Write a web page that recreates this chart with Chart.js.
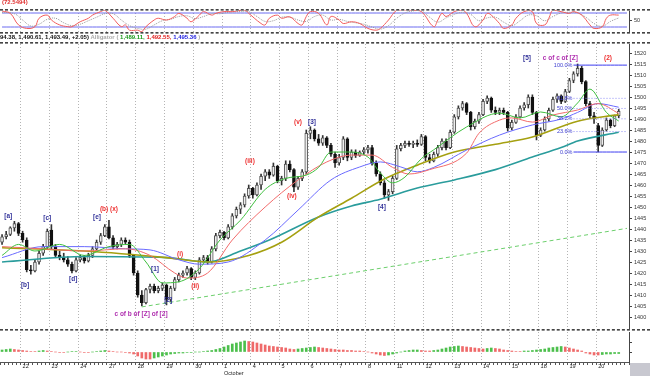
<!DOCTYPE html>
<html><head><meta charset="utf-8">
<script src="https://cdn.jsdelivr.net/npm/chart.js@4.4.1/dist/chart.umd.min.js"></script>
<style>
html,body{margin:0;padding:0;background:#fff;}
body{width:650px;height:376px;position:relative;overflow:hidden;font-family:"Liberation Sans",Arial,sans-serif;}
canvas{position:absolute;left:0;display:block;}
.sep{position:absolute;left:0;width:650px;height:0;border-top:1px dashed #444;border-bottom:1px dashed #888;z-index:5;}
#hdr{position:absolute;left:0;top:34px;font-size:6px;font-weight:bold;white-space:nowrap;line-height:7px;z-index:6;}
#rsiTitle{position:absolute;left:2px;top:-1px;font-size:6px;font-weight:bold;color:#e03030;z-index:6;}
#corner{position:absolute;left:630px;top:363px;width:20px;height:13px;background:#c8c8d0;}
</style></head><body>
<div id="rsiTitle">(72.5494)</div>
<canvas id="rsi" width="650" height="23" style="top:10px"></canvas>
<div id="hdr"><span style="color:#111">94.38, 1,490.61, 1,493.49, +2.05)</span> <span style="color:#aaa">Alligator (</span> <span style="color:#1a9a1a">1,489.11,</span> <span style="color:#e02020">1,492.55,</span> <span style="color:#2424e0">1,495.36</span> <span style="color:#aaa">)</span></div>
<canvas id="main" width="650" height="285" style="top:44px"></canvas>
<canvas id="hist" width="650" height="44" style="top:332px"></canvas>
<div class="sep" style="top:9px"></div>
<div class="sep" style="top:32px"></div>
<div class="sep" style="top:42px"></div>
<div class="sep" style="top:329px"></div>
<div id="corner"></div>
<script>
// ---------- categories ----------
const days = ['21','22','23','24','27','28','29','30','1','4','5','6','7','8','11','12','13','14','15','18','19','20'];
const barsPerDay = [5,7,7,7,7,7,7,7,7,7,7,7,7,7,7,7,7,7,7,7,7,8];
const monthNames = {'1':'October'};
const priceTicks = [1400,1405,1410,1415,1420,1425,1430,1435,1440,1445,1450,1455,1460,1465,1470,1475,1480,1485,1490,1495,1500,1505,1510,1515,1520];
const rsiTicks = [50];
const rsiLevels = [70,30];

// ---------- OHLC ----------
const opens = [1434,1436.5,1437.5,1440.5,1442.5,1438,1435,1421.5,1421,1425,
1429,1432,1439.5,1432,1428,1427,1426,1424,1421,1426,
1427,1425.5,1428,1431,1434,1437,1441,1436,1432,1433,
1435,1434,1428,1420,1410,1406.5,1412.5,1414,1412,1413,
1414.5,1408,1413,1417,1419,1420,1422,1418,1420,1426,
1427,1425,1431,1437,1438.5,1436,1441,1446,1449,1451,
1455,1458.5,1455.5,1460,1464,1466,1464.5,1468.5,1462,1463,
1469.5,1467,1459,1463,1466,1483.5,1485,1481,1479,1481.5,
1478,1474,1470,1472.5,1481,1472.5,1475,1473.5,1475,1476,
1477,1470,1465,1461,1455.5,1457,1463,1476.5,1478,1479,
1478.5,1479,1478.5,1482,1472.5,1471,1474,1477,1480,1477,
1484,1491,1495,1497,1493,1486.5,1489,1492,1498,1499.5,
1494,1493,1494,1493,1486,1488.5,1491,1495,1496.5,1500,
1493,1482.5,1485,1490,1494,1499,1500.5,1498,1502.5,1507.5,
1510.5,1513,1507,1497,1491.5,1487,1478,1485,1489.5,1487,
1491.5];
const highs = [1437.5,1439,1441,1443.5,1443,1439,1436,1423.5,1426,1430,
1433,1440,1442,1433,1430,1429,1427.5,1425,1427,1428,
1428,1429,1432,1435,1438,1442,1444,1437,1434,1436,
1436,1435,1428.5,1421,1412,1413,1415,1415,1414,1415.5,
1415,1414,1418,1420,1421,1423,1422.5,1421,1427,1428,
1428,1432,1438,1439.5,1439,1442,1447,1450,1452,1456,
1460,1459,1461,1465,1467,1467,1470,1469,1464,1471,
1471,1467.5,1464,1467,1485,1486.5,1485.5,1483,1482.5,1482,
1479,1475,1474,1482,1481.5,1476,1476,1475.5,1477,1478,
1478,1471,1466,1462,1458,1464,1478,1479,1480,1480,
1480,1480.5,1483,1482.5,1474,1475,1478,1481,1481,1485,
1492,1496,1498,1497.5,1493.5,1490,1493,1499,1500.5,1500,
1495.5,1495,1495,1493.5,1489.5,1492,1496,1497.5,1501,1501,
1493.5,1486,1491,1495,1500,1501.5,1501,1503.5,1508.5,1511.5,
1515,1514,1507.5,1498,1493,1488,1486,1490.5,1490,1491.8,
1494.38];
const lows = [1433,1435.5,1437,1439,1437,1434,1420.5,1419.5,1420.5,1424,
1428,1431,1431,1427,1426,1425,1423,1420,1420.5,1425,
1424.5,1425,1427,1430,1433,1436.5,1435.5,1431,1431,1432,
1433,1427,1419,1409,1405,1406,1411,1411,1411,1412,
1405.5,1407,1412,1416,1418,1419,1417,1417,1419.5,1425,
1424,1424.5,1430,1436,1435,1435.5,1440,1445,1447,1450,
1454,1454,1455,1458,1462,1463,1464,1461,1460,1462,
1466,1457,1458,1462,1465,1481,1480,1478,1478,1477,
1473,1468,1469,1471.5,1471,1471.5,1472.5,1473,1474,1474.5,
1469,1464,1460,1454,1453,1456,1462.5,1475.5,1477,1477.5,
1477,1477.5,1478,1471,1470,1470.5,1473,1476,1476,1476.5,
1483.5,1490,1494,1492,1485,1485.5,1488,1491.5,1497,1493,
1492,1492,1492,1484.5,1485,1488,1490.5,1494,1495,1492,
1480.5,1482,1484.5,1489,1493.5,1497.5,1497,1497.5,1502,1506.5,
1509.5,1506,1496,1490.5,1488,1475,1477.5,1484.5,1486,1486.5,
1490.61];
const closes = [1436.5,1437.5,1440.5,1442.5,1438,1435,1421.5,1421,1425,1429,
1432,1439,1432,1428,1427,1426,1424,1421,1426,1427,
1425.5,1428,1431,1434,1437,1441,1436,1432,1433,1435,
1434,1428,1420,1410,1406.5,1412.5,1414,1412,1413,1414.5,
1408,1413,1417,1419,1420,1422,1418,1420,1426,1427,
1425,1431,1437,1438.5,1436,1441,1446,1449,1451,1455,
1458.5,1455.5,1460,1464,1466,1464.5,1468.5,1462,1463,1469.5,
1467,1459,1463,1466,1483.5,1485,1481,1479,1481.5,1478,
1474,1470,1472.5,1481,1472.5,1475,1473.5,1475,1476,1477,
1470,1465,1461,1455.5,1457,1463,1476.5,1478,1479,1478.5,
1479,1478.5,1482,1472.5,1471,1474,1477,1480,1477,1484,
1491,1495,1497,1493,1486.5,1489,1492,1498,1499.5,1494,
1493,1494,1493,1486,1488.5,1491,1495,1496.5,1500,1493,
1482.5,1485,1490,1494,1499,1500.5,1498,1502.5,1507.5,1510.5,
1513,1507,1497,1491.5,1490,1478,1485,1489.5,1487,1491.44,
1493.49];

// ---------- moving averages (bar index, value) ----------
const maGreen = [[0,1428],[4,1433],[8,1430],[14,1433],[20,1428],[26,1432],[31,1433],[35,1425],[39,1415.5],[43,1416],[48,1422],[53,1435],[58,1444],[64,1458],[69,1463],[74,1464.5],[77,1468],[80,1475],[84,1475],[89,1472.7],[92,1465.5],[95,1461],[98,1463.6],[102,1472],[105,1476],[113,1486.4],[121,1492.7],[126,1490.5],[131,1493.2],[136,1491],[140,1497.3],[143,1503.6],[147,1493],[150,1489.1]];
const maRed = [[0,1432],[10,1431],[20,1430],[30,1431],[36,1428],[42,1420],[45,1417.7],[50,1420],[56,1435],[64,1450],[72,1462.3],[79,1470.5],[85,1473.6],[90,1473.6],[95,1468],[99,1465],[104,1467],[113,1474.5],[116,1483.5],[121,1489.5],[124,1490.5],[129,1488.6],[134,1491.8],[140,1494.1],[145,1497],[150,1492.55]];
const maBlue = [[0,1427],[10,1432],[20,1432],[30,1431],[36,1430.5],[43,1426],[48,1424],[55,1425],[64,1435],[72,1448.6],[80,1462.3],[87,1468.2],[92,1470.5],[97,1468.2],[101,1466],[105,1468],[113,1475.9],[121,1482.7],[129,1487.3],[136,1490],[140,1493],[145,1497],[150,1495.36]];
const maOlive = [[0,1431.5],[20,1430],[40,1427],[50,1425],[60,1428],[68,1434],[77,1445.5],[85,1454],[93,1462.7],[101,1469],[110,1475],[120,1478.5],[129,1481.8],[140,1489],[150,1492]];
const maTeal = [[0,1425],[20,1427.5],[40,1427],[50,1425],[58,1430],[65,1435],[77,1445.5],[85,1450.5],[92,1453.5],[101,1458.6],[110,1462.3],[120,1467],[129,1472.7],[136,1477],[140,1480],[150,1484]];
const trendLine = [[34,1404.6],[152,1440.3]];

// ---------- Fibonacci ----------
const fibNames = ['100.0%','61.8%','50.0%','38.2%','23.6%','0.0%'];
const fibPrices = [1514.5,1499.4,1494.8,1490.1,1484.3,1475];
const fibFrom = 139, fibTo = 152;

// ---------- RSI panel ----------
const rsiPts = [[0,75.7],[2,69],[4,36],[6,26],[8,31],[9,55],[11,64],[12,50],[14,36],[16,31],[17,31],[19,45],[21,55],[22,64],[24,74],[25,78],[27,55],[29,31],[30,36],[31,21],[33,21],[34,17],[35,31],[37,50],[38,55],[40,50],[42,60],[43,69],[45,55],[46,45],[48,64],[49,74],[51,64],[52,69],[54,74],[56,74],[59,78],[60,69],[63,40],[64,36],[65,55],[67,64],[68,55],[70,59],[72,40],[73,36],[74,60],[75,74],[77,69],[79,36],[80,60],[82,50],[83,40],[85,45],[87,40],[89,26],[91,21],[92,26],[94,50],[96,78],[98,79],[100,78],[102,74],[105,31],[106,50],[107,69],[108,60],[110,74],[112,78],[113,69],[115,31],[117,50],[118,69],[119,64],[121,40],[122,26],[124,36],[125,55],[127,74],[129,74],[130,40],[132,36],[133,55],[134,78],[136,74],[138,69],[139,74],[141,64],[143,36],[144,26],[146,31],[147,55],[148,64],[150,64]];
const rsiSignalPts = [[0,72],[3,68],[5,50],[7,33],[9,38],[11,52],[13,55],[15,42],[17,34],[19,38],[21,48],[23,58],[25,68],[27,68],[29,50],[31,34],[33,26],[35,24],[37,36],[39,48],[41,52],[43,60],[45,62],[47,54],[49,60],[51,68],[53,68],[55,72],[58,74],[60,74],[62,60],[64,46],[66,48],[68,58],[70,58],[72,50],[74,46],[76,60],[78,64],[80,50],[82,52],[84,46],[86,42],[88,38],[90,30],[92,24],[94,34],[96,55],[98,70],[100,76],[102,76],[104,58],[106,44],[108,56],[110,66],[112,72],[114,66],[116,48],[118,56],[120,58],[122,44],[124,34],[126,48],[128,64],[130,62],[132,48],[134,60],[136,70],[138,72],[140,70],[142,58],[144,40],[146,32],[148,46],[150,56]];

// ---------- lower histogram ----------
const histValues = [2,2.5,3,2.5,2, 1.5,1,0.5, 0.5,1,1.5,1,0.5, 0,-0.5,-0.5,0,0.5,0.5,0,-0.5,
-0.5,0,0.5,1,1.5,1,0.5,0, 0,-0.5,-1,-2, -4,-6,-7,-7,-6, -5,-4,-3,
-2,-1.5,-1,-1,-0.5,-0.5,0,0, 0.5,1,1.5,2.5,3.5, 5,6.5,8,9,10,11,
10.5,10,9,8,7,6,5.5, 5,4.5,4,3,2.5,3, 3.5,4,4.5,5,4.5, 4,3.5,3,2.5,2,
2,1.5,1.5,1,1,0.5, 0,-1,-2,-3,-3.5,-3, -2,-1,0, 1,1.5,2,2,1.5,
1,1,1.5,2,3, 4,5,5.5,6,5.5,5, 4.5,4,3.5,3,3.5, 4,3.5,3,
2,1.5,1,0.5,0.5,1, 1,1.5,2,2.5,3, 4,4.5,5,5.5,5, 4,3,2,1,
-1,-2,-3,-3, -2.5,-2,-2,-1.5,-1.5];

// ---------- wave labels (bar index, price) ----------
const BL='#33339a', RD='#ee3030', PU='#b030b0';
const notes = [
 {i:1.5,p:1445.8,t:'[a]',c:BL},{i:5.6,p:1414.3,t:'[b]',c:BL},{i:11,p:1444.8,t:'[c]',c:BL},
 {i:17.3,p:1417.3,t:'[d]',c:BL},{i:23.1,p:1445.2,t:'[e]',c:BL},{i:26,p:1448.8,t:'(b) (x)',c:RD},
 {i:37.2,p:1421.8,t:'[1]',c:BL},{i:43.3,p:1428.6,t:'(i)',c:RD},{i:47,p:1414,t:'(ii)',c:RD},
 {i:40.4,p:1407.7,t:'[2]',c:BL},{i:33.8,p:1401.4,t:'c of b of [Z] of [2]',c:PU},
 {i:60.3,p:1470.9,t:'(iii)',c:RD},{i:70.5,p:1455,t:'(iv)',c:RD},{i:72,p:1488.4,t:'(v)',c:RD},
 {i:75.4,p:1488.6,t:'[3]',c:BL},{i:92.4,p:1450,t:'[4]',c:BL},
 {i:127.7,p:1517.5,t:'[5]',c:BL},{i:135.8,p:1517.5,t:'c of c of [Z]',c:PU},{i:147.4,p:1517.5,t:'(2)',c:RD}
];

// ---------- build tables ----------
const labels = []; const dayStart = {};
days.forEach((d,k)=>{ for(let j=0;j<barsPerDay[k];j++){ if(j===0) dayStart[labels.length]=d; labels.push(d+'-'+j);} });
const N = labels.length;
const fromPairs = pairs => { const a = new Array(N).fill(null); pairs.forEach(([i,v])=>{a[i]=v;}); return a; };
const bodies = [], wicks = [], bodyFill = [], bodyBorder = [];
for (let i=0;i<N;i++){
  if (i>=closes.length){ bodies.push(null); wicks.push(null); bodyFill.push('#fff'); bodyBorder.push('#444'); continue; }
  let lo = Math.min(opens[i],closes[i]), hi = Math.max(opens[i],closes[i]);
  if (hi-lo<0.3) hi = lo+0.3;
  bodies.push([lo,hi]); wicks.push([lows[i],highs[i]]);
  const up = closes[i]>=opens[i];
  bodyFill.push(up?'#ededed':'#111'); bodyBorder.push(up?'#555':'#111');
}
const histColors = histValues.map((v,i)=>{
  let k=i; while(k>0 && histValues[k-1]===histValues[k]) k--;
  return (k===0 || histValues[k]>histValues[k-1]) ? '#4cbf4c' : '#ef6a6a';
});

const dayGridColor = ctx => (ctx.index>0 && (ctx.index in dayStart)) ? '#b4b4b4' : 'rgba(0,0,0,0)';
const tinyFont = {size:5.5, family:'"Liberation Sans", Arial, sans-serif'};
const rightAxis = (min,max,ticks,showLabels) => ({
  position:'right', min:min, max:max,
  afterBuildTicks: s=>{ s.ticks = ticks.map(v=>({value:v})); },
  ticks:{font:tinyFont, color:'#333', padding:2, display:showLabels, callback:v=>String(v)},
  grid:{drawOnChartArea:false, tickLength:3, tickColor:'#444'},
  border:{display:true, color:'#444'},
  afterFit: s=>{ s.width=21; s.paddingTop=0; s.paddingBottom=0; }
});
const xHidden = {
  type:'category', offset:true,
  ticks:{display:false, autoSkip:false},
  grid:{color:dayGridColor, drawTicks:false, offset:true, lineWidth:1},
  border:{display:false, dash:[1,2]},
  afterFit: s=>{ s.height=0; s.paddingLeft=0; s.paddingRight=0; }
};
const baseOpts = {
  responsive:false, animation:false, devicePixelRatio:1,
  layout:{padding:0, autoPadding:false},
  plugins:{legend:{display:false}, tooltip:{enabled:false}},
  elements:{point:{radius:0}}
};

// ---------- RSI chart ----------
new Chart(document.getElementById('rsi'), {
  type:'line',
  data:{labels:labels, datasets:[
    {data:fromPairs(rsiPts), borderColor:'#f25c5c', borderWidth:1, spanGaps:true, tension:0.4, clip:false},
    {data:fromPairs(rsiSignalPts), borderColor:'#9a9a9a', borderWidth:1, borderDash:[1,1], spanGaps:true, tension:0.4, clip:false},
    {data:labels.map(()=>rsiLevels[0]), borderColor:'#6a6af0', borderWidth:1},
    {data:labels.map(()=>rsiLevels[1]), borderColor:'#6a6af0', borderWidth:1}
  ]},
  options:Object.assign({}, baseOpts, {scales:{x:xHidden, y:rightAxis(12.9,78.6,rsiTicks,true)}})
});

// ---------- main chart ----------
const notePlugin = {
  id:'notes',
  afterDatasetsDraw(chart){
    const {ctx, scales:{x,y}} = chart;
    ctx.save();
    ctx.font = 'bold 6.5px "Liberation Sans", Arial, sans-serif';
    ctx.textAlign='center'; ctx.textBaseline='middle';
    notes.forEach(n=>{ ctx.fillStyle=n.c; ctx.fillText(n.t, x.getPixelForValue(n.i), y.getPixelForValue(n.p)); });
    ctx.font = '5.5px "Liberation Sans", Arial, sans-serif';
    ctx.textAlign='right'; ctx.fillStyle='#3a3ad0';
    fibNames.forEach((t,k)=>{ ctx.fillText(t, x.getPixelForValue(fibFrom)-1, y.getPixelForValue(fibPrices[k])); });
    ctx.restore();
  }
};
const lineDs = (pairs,color,width,dash) => ({type:'line', data:fromPairs(pairs), borderColor:color, borderWidth:width, borderDash:dash||[], spanGaps:true, tension:0.4, cubicInterpolationMode:'monotone', pointRadius:0});
const fibDs = fibPrices.map((p,k)=>({type:'line', data:labels.map((l,i)=> (i>=fibFrom && i<=fibTo) ? p : null), borderColor:(k===0||k===fibPrices.length-1)?'#3c3cf0':'#8c8cf5', borderWidth:1, borderDash:(k===0||k===fibPrices.length-1)?[]:[1,2], pointRadius:0, clip:false}));
new Chart(document.getElementById('main'), {
  type:'bar',
  data:{labels:labels, datasets:[
    ...fibDs,
    {type:'line', data:fromPairs(trendLine), borderColor:'#6ccf6c', borderWidth:1, borderDash:[4,3], spanGaps:true, pointRadius:0},
    lineDs(maGreen,'#3fbf3f',1),
    lineDs(maRed,'#f26b6b',1),
    lineDs(maBlue,'#6a6aff',1),
    lineDs(maOlive,'#a5a010',1.6),
    lineDs(maTeal,'#2a9c9c',1.6),
    {type:'bar', data:bodies, backgroundColor:bodyFill, borderColor:bodyBorder, borderWidth:1, borderSkipped:false, barThickness:3, grouped:false},
    {type:'bar', data:wicks, backgroundColor:'#333', borderWidth:0, barThickness:1, grouped:false}
  ]},
  options:Object.assign({}, baseOpts, {scales:{x:xHidden, y:rightAxis(1394.55,1524.1,priceTicks,true)}}),
  plugins:[notePlugin]
});

// ---------- histogram chart ----------
new Chart(document.getElementById('hist'), {
  type:'bar',
  data:{labels:labels, datasets:[
    {data:histValues, backgroundColor:histColors, borderWidth:0, barThickness:2}
  ]},
  options:Object.assign({}, baseOpts, {scales:{
    x:{type:'category', offset:true,
       ticks:{autoSkip:false, maxRotation:0, minRotation:0, align:'start', padding:-2, font:Object.assign({lineHeight:1.25}, tinyFont), color:'#222',
              callback:(v,i)=>{ const d=dayStart[i]; if(!d || i===0) return ''; return monthNames[d] ? [d, monthNames[d]] : d; }},
       grid:{color:dayGridColor, offset:true, tickLength:3, tickColor:'#555', lineWidth:1},
       border:{display:true, color:'#555', dash:[1,2]},
       afterFit: s=>{ s.height=14; s.paddingLeft=0; s.paddingRight=0; }},
    y:rightAxis(-10,20,[0,10],false)
  }})
});
</script>
</body></html>
